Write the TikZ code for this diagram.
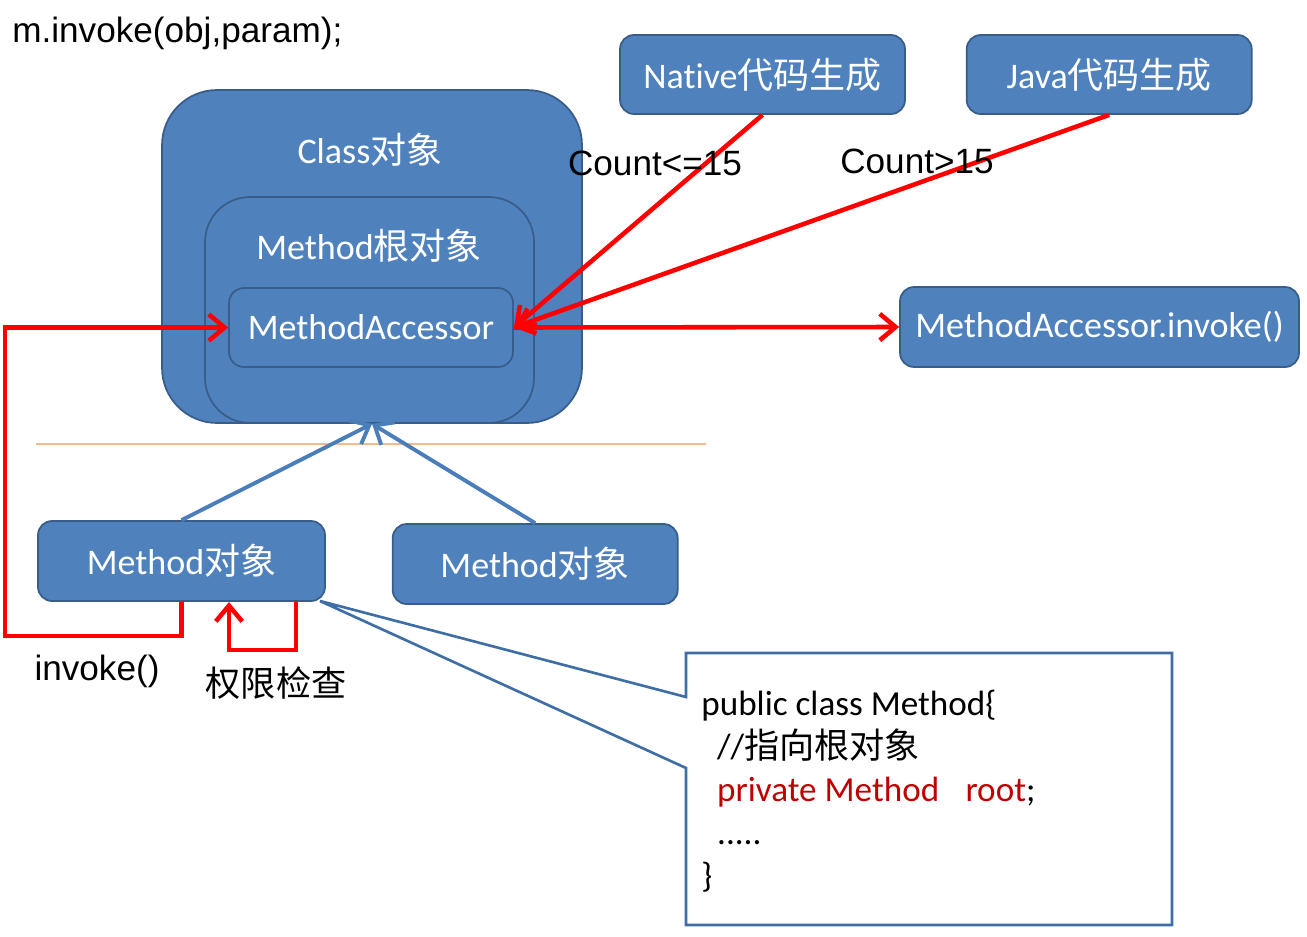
\documentclass[tikz,border=0pt]{standalone}
\usepackage{fontspec}
\setmainfont{Carlito}[Ligatures=NoCommon]
\newfontfamily\arial{Liberation Sans}
\newfontfamily\cjk{Noto Sans CJK SC}
\usepackage{xcolor}
\usetikzlibrary{arrows.meta,calc,positioning}
\definecolor{boxfill}{HTML}{4F81BD}
\definecolor{boxline}{HTML}{385D8A}
\definecolor{linkblue}{HTML}{4A7EBB}
\definecolor{calloutline}{HTML}{3F6EA6}
\definecolor{rulecol}{HTML}{F8B88A}
\definecolor{codered}{HTML}{C00000}
\tikzset{
	box/.style={draw=boxline, fill=boxfill, line width=1pt, rounded corners=#1,
		text=white, inner sep=0pt, font=\fontsize{20.5}{24}\selectfont},
	box/.default=0.28cm,
	boxtext/.style={text=white, inner sep=0pt, font=\fontsize{20.5}{24}\selectfont},
	lbl/.style={inner sep=0pt, font=\arial\fontsize{20}{24}\selectfont},
	redlink/.style={draw=red, line width=2.6pt, -{Straight Barb[length=9pt,width=15pt]}},
	uplink/.style={draw=linkblue, line width=2.2pt, -{Straight Barb[length=9pt,width=15pt]}},
	codebox/.style={draw=calloutline, line width=1.5pt, fill=white},
	codetext/.style={inner sep=0pt, align=left, font=\fontsize{20}{24.4}\selectfont}
}

\begin{document}
\begin{tikzpicture}[x=0.02cm, y=-0.02cm]
   \useasboundingbox (0,0) rectangle (1307,936);
   % nested objects
   \node[box=1.1cm, minimum width=8.4cm, minimum height=6.66cm] (cls) at (372,256.5) {};
   \node[box=0.9cm, minimum width=6.58cm, minimum height=4.52cm] (root) at (369.5,310) {};
   \node[box=0.3cm, minimum width=5.68cm, minimum height=1.58cm] (acc) at (371,327.5) {MethodAccessor};
   \node[boxtext] (clsname) at (370,150) {Class{\cjk 对象}};
   \node[boxtext] (rootname) at (369,246) {Method{\cjk 根对象}};
   % generators and target
   \node[box, minimum width=5.7cm, minimum height=1.58cm] (native) at (762.5,74.5) {Native{\cjk 代码生成}};
   \node[box, minimum width=5.7cm, minimum height=1.58cm, right=1.2cm of native] (java) {Java{\cjk 代码生成}};
   \node[box, minimum width=7.98cm, minimum height=1.6cm] (accinv) at (1099.5,327) {MethodAccessor.invoke()};
   % method objects
   \node[box, minimum width=5.74cm, minimum height=1.6cm] (m1) at (181.5,561) {Method{\cjk 对象}};
   \node[box, minimum width=5.7cm, minimum height=1.6cm, right=1.32cm of m1, yshift=-0.06cm] (m2) {Method{\cjk 对象}};

   \draw[rulecol, line width=0.8pt] (36,444) -- (706,444);

   \draw[uplink] (m1.north) -- (cls.south);
   \draw[uplink] (m2.north) -- (cls.south);

   \draw[redlink] (native.south) -- (acc.east);
   \draw[redlink] (java.south) -- (acc.east);
   \draw[redlink] (acc.east) -- (accinv.west);

   \coordinate (loop) at (5,636);
   \draw[redlink] (m1.south) |- (loop) |- (acc.west);
   \coordinate (chkout) at (296,601);
   \coordinate (chkin) at (229,602);
   \draw[redlink] (chkout) -- ++(0,49) -| (chkin);

   \node[lbl, anchor=west] (call) at (12,33) {m.invoke(obj,param);};
   \node[lbl] (le) at (655,163) {Count<=15};
   \node[lbl] (gt) at (917,161) {Count>15};
   \node[lbl] (inv) at (97,671) {invoke()};
   \node[lbl, font=\cjk\fontsize{20}{24}\selectfont] (chk) at (276,683) {权限检查};

   % callout with the source of Method
   \coordinate (tip) at (320,601);
   \draw[codebox] (686,653) -| (1172,925) -| (686,768) -- (tip) -- (686,697) -- cycle;
   \node[codetext, anchor=north west] (code) at (701,690)
      {public class Method\{\\
       \hspace*{9pt}//{\cjk 指向根对象}\\
       \hspace*{9pt}\textcolor{codered}{private Method\hspace{0.75em}root};\\
       \hspace*{9pt}.....\\
       \}};
\end{tikzpicture}
\end{document}
